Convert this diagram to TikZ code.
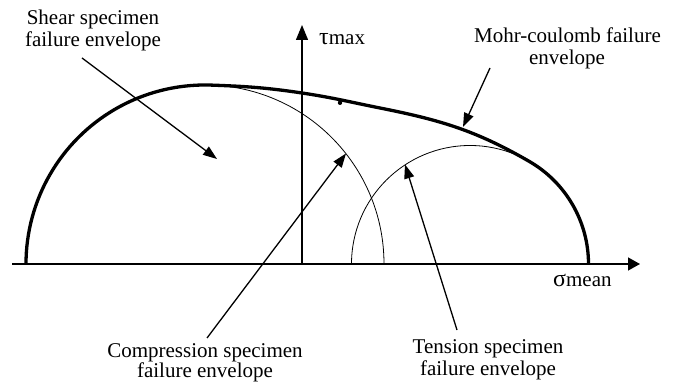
\documentclass[tikz,border=0pt]{standalone}
\usepackage{fontspec}
\setmainfont{Liberation Serif}
\usetikzlibrary{arrows.meta}
\begin{document}
\begin{tikzpicture}[x=1pt,y=1pt,
  lbl/.style={font=\fontsize{21}{21}\selectfont, inner sep=0pt, anchor=base},
  axlbl/.style={font=\fontsize{21}{21}\selectfont, inner sep=0pt, anchor=base west},
  leader/.style={line width=1.3pt, -{Triangle[length=14pt,width=10pt]}},
  axisline/.style={line width=1.3pt},
  envline/.style={line width=3.3pt, line join=round},
  thinline/.style={line width=0.8pt}]
\useasboundingbox (0,-121) rectangle (682,264);

% axes
\coordinate (xs) at (12,0);
\coordinate (xe) at (640,0);
\coordinate (ys) at (302,0);
\coordinate (ye) at (302,239);
\draw[axisline,-{Triangle[length=12pt,width=13pt]}] (xs) -- (xe);
\draw[axisline,-{Triangle[length=15pt,width=12pt]}] (ys) -- (ye);

% thin circles
\draw[thinline] (205,179) arc[start angle=90,end angle=0,radius=179];
\draw[thinline] (351.5,0) arc[start angle=180,end angle=0,radius=118.5];

% thick envelope
\draw[envline] (26,0) arc[start angle=180,end angle=88,radius=179]
  to[out=-2,in=171.5] (302,171)
  to[out=-8.5,in=168.7] (380,156)
  to[out=-11.3,in=150] (529.25,102.6)
  arc[start angle=60,end angle=0,radius=118.5];
\fill (340,161.2) circle (2.2);

% axis labels
\node[axlbl] (tau) at (319,219) {\fontsize{24}{24}\selectfont τ\fontsize{21}{21}\selectfont max};
\node[axlbl] (sigma) at (553,-23) {\fontsize{24}{24}\selectfont σ\fontsize{21}{21}\selectfont mean};

% labels
\node[lbl] (shear1) at (93,239) {Shear specimen};
\node[lbl] (shear2) at (93,217) {failure envelope};
\node[lbl] (mohr1) at (567.5,221) {Mohr-coulomb failure};
\node[lbl] (mohr2) at (567,199) {envelope};
\node[lbl] (comp1) at (205,-93) {Compression specimen};
\node[lbl] (comp2) at (205,-113) {failure envelope};
\node[lbl] (tens1) at (488,-89) {Tension specimen};
\node[lbl] (tens2) at (488,-111) {failure envelope};

% leader lines
\coordinate (shearS) at (82,206);
\coordinate (shearT) at (217,105);
\coordinate (mohrS) at (490,196);
\coordinate (mohrT) at (463,137);
\coordinate (compS) at (207,-74);
\coordinate (compT) at (346,110.5);
\coordinate (tensS) at (457,-66);
\coordinate (tensT) at (405,99.5);
\draw[leader] (shearS) -- (shearT);
\draw[leader] (mohrS) -- (mohrT);
\draw[leader] (compS) -- (compT);
\draw[leader] (tensS) -- (tensT);
\end{tikzpicture}
\end{document}
